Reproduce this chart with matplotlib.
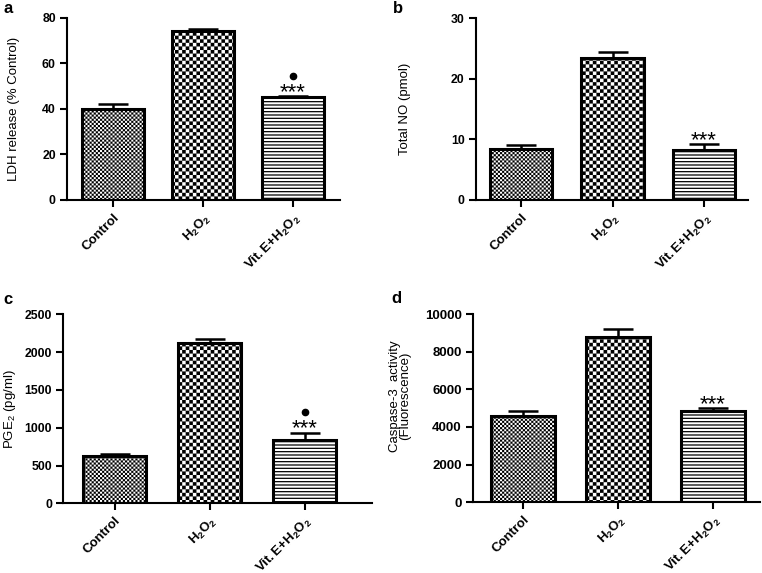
import warnings
import matplotlib
matplotlib.use("Agg")
import matplotlib.pyplot as plt
import matplotlib.hatch as mhatch
from matplotlib.path import Path
import numpy as np

warnings.filterwarnings("ignore")


class CheckerHatch(mhatch.HatchPatternBase):
    """Checkerboard of filled squares; 'k' count sets the fineness."""

    def __init__(self, hatch, density):
        self.n = hatch.count('k') * 4
        self.num_vertices = (self.n * self.n // 2) * 5 if self.n else 0

    def set_vertices_and_codes(self, vertices, codes):
        n = self.n
        s = 1.0 / n
        sq = np.array([[0, 0], [s, 0], [s, s], [0, s], [0, 0]], float)
        sc = [Path.MOVETO, Path.LINETO, Path.LINETO, Path.LINETO, Path.CLOSEPOLY]
        vp, cp = [], []
        for r in range(n):
            for c in range(n):
                if (r + c) % 2 == 0:
                    vp.append(sq + [c * s, r * s])
                    cp.extend(sc)
        vertices[:] = np.concatenate(vp)
        codes[:] = cp


mhatch._hatch_types.append(CheckerHatch)

plt.rcParams['font.family'] = ['Liberation Sans', 'DejaVu Sans']
plt.rcParams['mathtext.fontset'] = 'custom'
plt.rcParams['mathtext.rm'] = 'Liberation Sans:bold'
plt.rcParams['mathtext.it'] = 'Liberation Sans:bold'
plt.rcParams['mathtext.bf'] = 'Liberation Sans:bold'
plt.rcParams['mathtext.sf'] = 'Liberation Sans'

categories = ['Control', r'$\mathrm{H_2O_2}$', r'$\mathrm{Vit.E{+}H_2O_2}$']

ldh_mean = [39.8, 74.0, 45.0]
ldh_err = [2.4, 1.2, 0.8]
no_mean = [8.5, 23.5, 8.2]
no_err = [0.55, 1.0, 1.0]
pge2_mean = [630, 2115, 840]
pge2_err = [25, 60, 95]
casp_mean = [4560, 8760, 4870]
casp_err = [300, 430, 120]

panels = [
    dict(letter='a', mean=ldh_mean, err=ldh_err, ylim=(0, 80), yticks=[0, 20, 40, 60, 80],
         ylabel='LDH release (% Control)', rect=[0.0879, 0.651, 0.358, 0.318],
         xlim=(-0.51, 2.52), width=0.69, dot=True, labx=-0.172, laby=0.5,
         lx=0.004, ly=0.9765, fs=8.8),
    dict(letter='b', mean=no_mean, err=no_err, ylim=(0, 30), yticks=[0, 10, 20, 30],
         ylabel='Total NO (pmol)', rect=[0.6243, 0.651, 0.3573, 0.317],
         xlim=(-0.495, 2.48), width=0.68, dot=False, labx=-0.239, laby=0.5,
         lx=0.5157, ly=0.9765, fs=8.8),
    dict(letter='c', mean=pge2_mean, err=pge2_err, ylim=(0, 2500), yticks=[0, 500, 1000, 1500, 2000, 2500],
         ylabel=r'PGE$_\mathsf{2}$ (pg/ml)', rect=[0.0827, 0.1216, 0.4055, 0.33],
         xlim=(-0.544, 2.71), width=0.67, dot=True, labx=-0.145, laby=0.5,
         lx=0.004, ly=0.4703, fs=8.8),
    dict(letter='d', mean=casp_mean, err=casp_err, ylim=(0, 10000), yticks=[0, 2000, 4000, 6000, 8000, 10000],
         ylabel='Caspase-3  activity\n(Fluorescence)', rect=[0.6207, 0.1234, 0.3766, 0.3286],
         xlim=(-0.526, 2.495), width=0.67, dot=False, labx=-0.215, laby=0.565,
         lx=0.514, ly=0.4717, fs=9.5),
]

hatches = ['k' * 12, 'k' * 7, '-----']
hatch_lw = [0.05, 0.05, 0.9]

fig = plt.figure(figsize=(7.62, 5.73), dpi=100)

for p in panels:
    ax = fig.add_axes(p['rect'])
    x = np.arange(len(categories))
    for i in range(len(categories)):
        with plt.rc_context({'hatch.linewidth': hatch_lw[i]}):
            ax.bar(x[i], p['mean'][i], width=p['width'], color='white', edgecolor='black',
                   linewidth=2.2, hatch=hatches[i], zorder=2)
    ax.errorbar(x, p['mean'], yerr=[np.zeros(3), p['err']], fmt='none', ecolor='black',
                elinewidth=1.8, capsize=11, capthick=1.8, zorder=1)
    top = p['mean'][2] + p['err'][2]
    span = p['ylim'][1] - p['ylim'][0]
    ax.annotate('***', xy=(x[2], top), xytext=(0, -1.5), textcoords='offset points',
                ha='center', va='baseline', fontsize=16)
    if p['dot']:
        ax.plot([x[2]], [top + span * 0.11], 'o', color='black', markersize=4.5)
    ax.set_xlim(*p['xlim'])
    ax.set_ylim(*p['ylim'])
    ax.set_yticks(p['yticks'])
    ax.set_xticks(x)
    ax.set_xticklabels(categories, rotation=45, ha='right', rotation_mode='anchor',
                       fontsize=9.5, fontweight='bold')
    for lab in ax.get_yticklabels():
        lab.set_fontweight('bold')
        lab.set_fontsize(p['fs'])
    ax.tick_params(axis='both', direction='out', length=5, width=1.5, pad=3)
    ax.spines['top'].set_visible(False)
    ax.spines['right'].set_visible(False)
    ax.spines['left'].set_linewidth(1.5)
    ax.spines['bottom'].set_linewidth(1.5)
    ax.set_ylabel(p['ylabel'], fontsize=9.5, linespacing=0.8)
    ax.yaxis.set_label_coords(p['labx'], p['laby'])
    fig.text(p['lx'], p['ly'], p['letter'], fontsize=12, fontweight='bold',
             va='baseline', ha='left')

fig.savefig('out.png', dpi=100)
